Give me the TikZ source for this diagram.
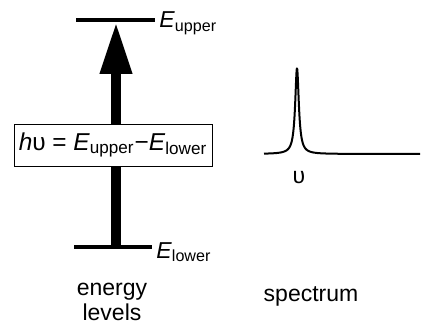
\documentclass[tikz,border=0pt]{standalone}
\usepackage{fontspec}
\setmainfont{Liberation Sans}
\usetikzlibrary{arrows.meta,positioning}

\begin{document}
\begin{tikzpicture}[
    x=0.5pt,
    y=-0.5pt,
    every node/.style={font=\fontsize{11.5}{12.5}\selectfont, inner sep=1pt},
    level/.style={draw=black, line width=2pt},
    transition/.style={draw=black, line width=5pt,
      -{Triangle[length=26pt, width=15pt]}},
    formula/.style={draw=black, fill=white, line width=0.5pt,
      font=\fontsize{12.2}{14}\selectfont,
      minimum width=99pt, minimum height=21pt, inner sep=1pt},
    spectrumline/.style={draw=black, line width=1pt, line join=round}
  ]
    \useasboundingbox (0,0) rectangle (422,326);
    % energy levels
    \coordinate (upL) at (76,20);
    \coordinate (upR) at (155,20);
    \coordinate (loL) at (74,247);
    \coordinate (loR) at (152,247);
    \coordinate (upmid) at (116,22);
    \coordinate (lomid) at (116,247);
    \draw[level] (upL) -- (upR);
    \draw[level] (loL) -- (loR);
    \draw[transition] (lomid) -- (upmid);
    \node[formula] (hv) at (113,145)
      {\textit{h}υ = \textit{E}\textsubscript{upper}−\textit{E}\textsubscript{lower}};
    \node[anchor=west] (Eup) at (157,23) {\textit{E}\textsubscript{upper}};
    \node[anchor=west] (Elo) at (154,252) {\textit{E}\textsubscript{lower}};
    \node[align=center] (levels) at (112,302) {energy\\levels};
    % spectrum
    \draw[spectrumline] plot[domain=264:420, samples=400, smooth]
      (\x, {154 - 86/(1 + ((\x-297)/2.2)^2)});
    \node (nu) at (299,178) {υ};
    \node (spec) at (311,296) {spectrum};
  \end{tikzpicture}
\end{document}
